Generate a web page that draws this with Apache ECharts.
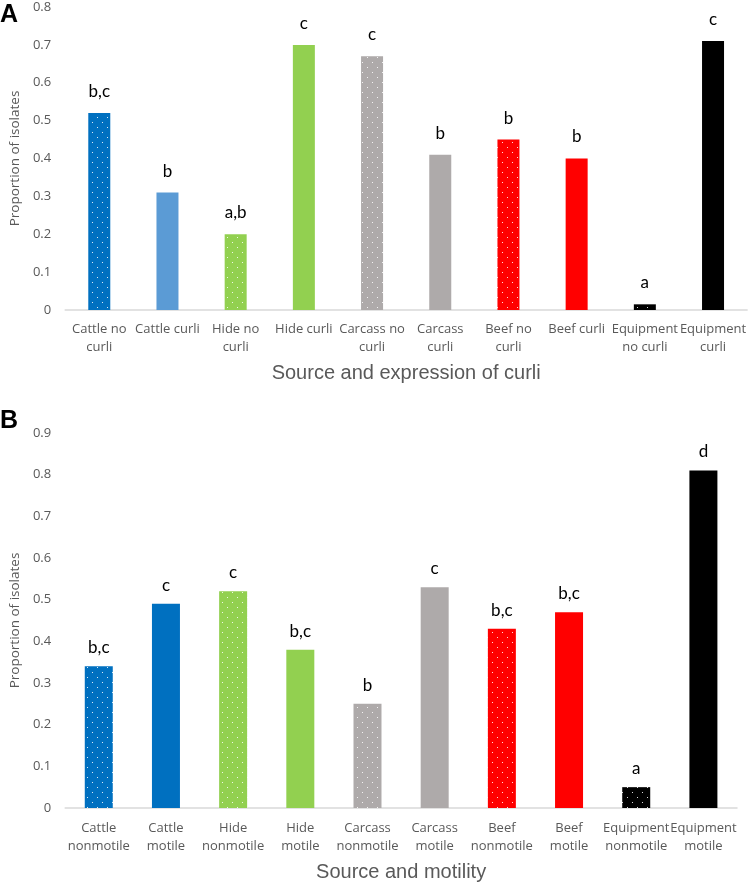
<!DOCTYPE html>
<html>
<head>
<meta charset="utf-8">
<script src="https://cdn.jsdelivr.net/npm/echarts@6/dist/echarts.min.js"></script>
<style>
html,body{margin:0;padding:0;background:#fff;}
#main{width:749px;height:884px;}
</style>
</head>
<body>
<div id="main"></div>
<script>
// ---- Data ----
const categoriesA = ['Cattle no\ncurli','Cattle curli','Hide no\ncurli','Hide curli','Carcass no\ncurli','Carcass\ncurli','Beef no\ncurli','Beef curli','Equipment\nno curli','Equipment\ncurli'];
const valuesA = [0.52, 0.31, 0.20, 0.70, 0.67, 0.41, 0.45, 0.40, 0.015, 0.71];
const lettersA = ['b,c','b','a,b','c','c','b','b','b','a','c'];

const categoriesB = ['Cattle\nnonmotile','Cattle\nmotile','Hide\nnonmotile','Hide\nmotile','Carcass\nnonmotile','Carcass\nmotile','Beef\nnonmotile','Beef\nmotile','Equipment\nnonmotile','Equipment\nmotile'];
const valuesB = [0.34, 0.49, 0.52, 0.38, 0.25, 0.53, 0.43, 0.47, 0.05, 0.81];
const lettersB = ['b,c','c','c','b,c','b','c','b,c','b,c','a','d'];

const yTicksA = [0, 0.8, 0.1];
const yTicksB = [0, 0.9, 0.1];

// ---- Styles ----
const colorsA = ['#0070C0','#5B9BD5','#92D050','#92D050','#AEAAAA','#AEAAAA','#FF0000','#FF0000','#000000','#000000'];
const dottedA = [true,false,true,false,true,false,true,false,true,false];
const colorsB = ['#0070C0','#0070C0','#92D050','#92D050','#AEAAAA','#AEAAAA','#FF0000','#FF0000','#000000','#000000'];
const dottedB = [true,false,true,false,true,false,true,false,true,false];

function makePattern(color){
  const c = document.createElement('canvas');
  c.width = 10; c.height = 10;
  const ctx = c.getContext('2d');
  ctx.fillStyle = color; ctx.fillRect(0,0,10,10);
  ctx.fillStyle = 'rgba(255,255,255,0.85)';
  ctx.fillRect(2,2,1,1);
  ctx.fillRect(7,7,1,1);
  return {image: c, repeat: 'repeat'};
}
function buildData(values, colors, dotted){
  return values.map((v,i)=>({value: v, itemStyle:{color: dotted[i] ? makePattern(colors[i]) : colors[i]}}));
}

const tickFont = 'Open Sans';
const tickColor = '#595959';

const chart = echarts.init(document.getElementById('main'), null, {renderer:'canvas'});
function xAxisCfg(idx, cats, name, margin, gap){
  return {
    type:'category', gridIndex: idx, data: cats,
    name: name, nameLocation:'middle', nameGap: gap,
    nameTextStyle:{fontFamily:'Liberation Sans', fontSize:20, color:'#595959'},
    axisLine:{lineStyle:{color:'#D9D9D9', width:1.5}},
    axisTick:{show:false},
    axisLabel:{fontFamily:tickFont, fontSize:13, color:tickColor, lineHeight:18, margin: margin, interval:0}
  };
}
function yAxisCfg(idx, ticks){
  return {
    type:'value', gridIndex: idx, min: ticks[0], max: ticks[1], interval: ticks[2],
    name:'Proportion of isolates', nameLocation:'middle', nameGap: 35, nameRotate: 90,
    nameTextStyle:{fontFamily:tickFont, fontSize:13.5, color:tickColor},
    axisLine:{show:false}, axisTick:{show:false}, splitLine:{show:false},
    axisLabel:{fontFamily:tickFont, fontSize:13, color:tickColor, margin:14,
      formatter: v => String(Math.round(v*10)/10)}
  };
}
function labelCfg(letters, distance){
  return {show:true, position:'top', distance: distance, fontFamily:'Lato', fontSize:17, color:'#000',
    formatter: p => letters[p.dataIndex]};
}

chart.setOption({
  animation:false,
  grid:[
    {left:63, right:0, top:7, bottom:574},
    {left:60, right:12, top:433, bottom:76}
  ],
  xAxis:[
    xAxisCfg(0, categoriesA, 'Source and expression of curli', 10, 53),
    xAxisCfg(1, categoriesB, 'Source and motility', 11, 54)
  ],
  yAxis:[yAxisCfg(0, yTicksA), yAxisCfg(1, yTicksB)],
  series:[
    {type:'bar', xAxisIndex:0, yAxisIndex:0, barWidth:22, data: buildData(valuesA, colorsA, dottedA), label: labelCfg(lettersA, 13)},
    {type:'bar', xAxisIndex:1, yAxisIndex:1, barWidth:28, data: buildData(valuesB, colorsB, dottedB), label: labelCfg(lettersB, 10)}
  ],
  graphic:[
    {type:'text', left:0, top:3, style:{text:'A', fontFamily:'Liberation Sans', fontWeight:'bold', fontSize:25, fill:'#000'}},
    {type:'text', left:0, top:409, style:{text:'B', fontFamily:'Liberation Sans', fontWeight:'bold', fontSize:25, fill:'#000'}}
  ]
});
</script>
</body>
</html>
